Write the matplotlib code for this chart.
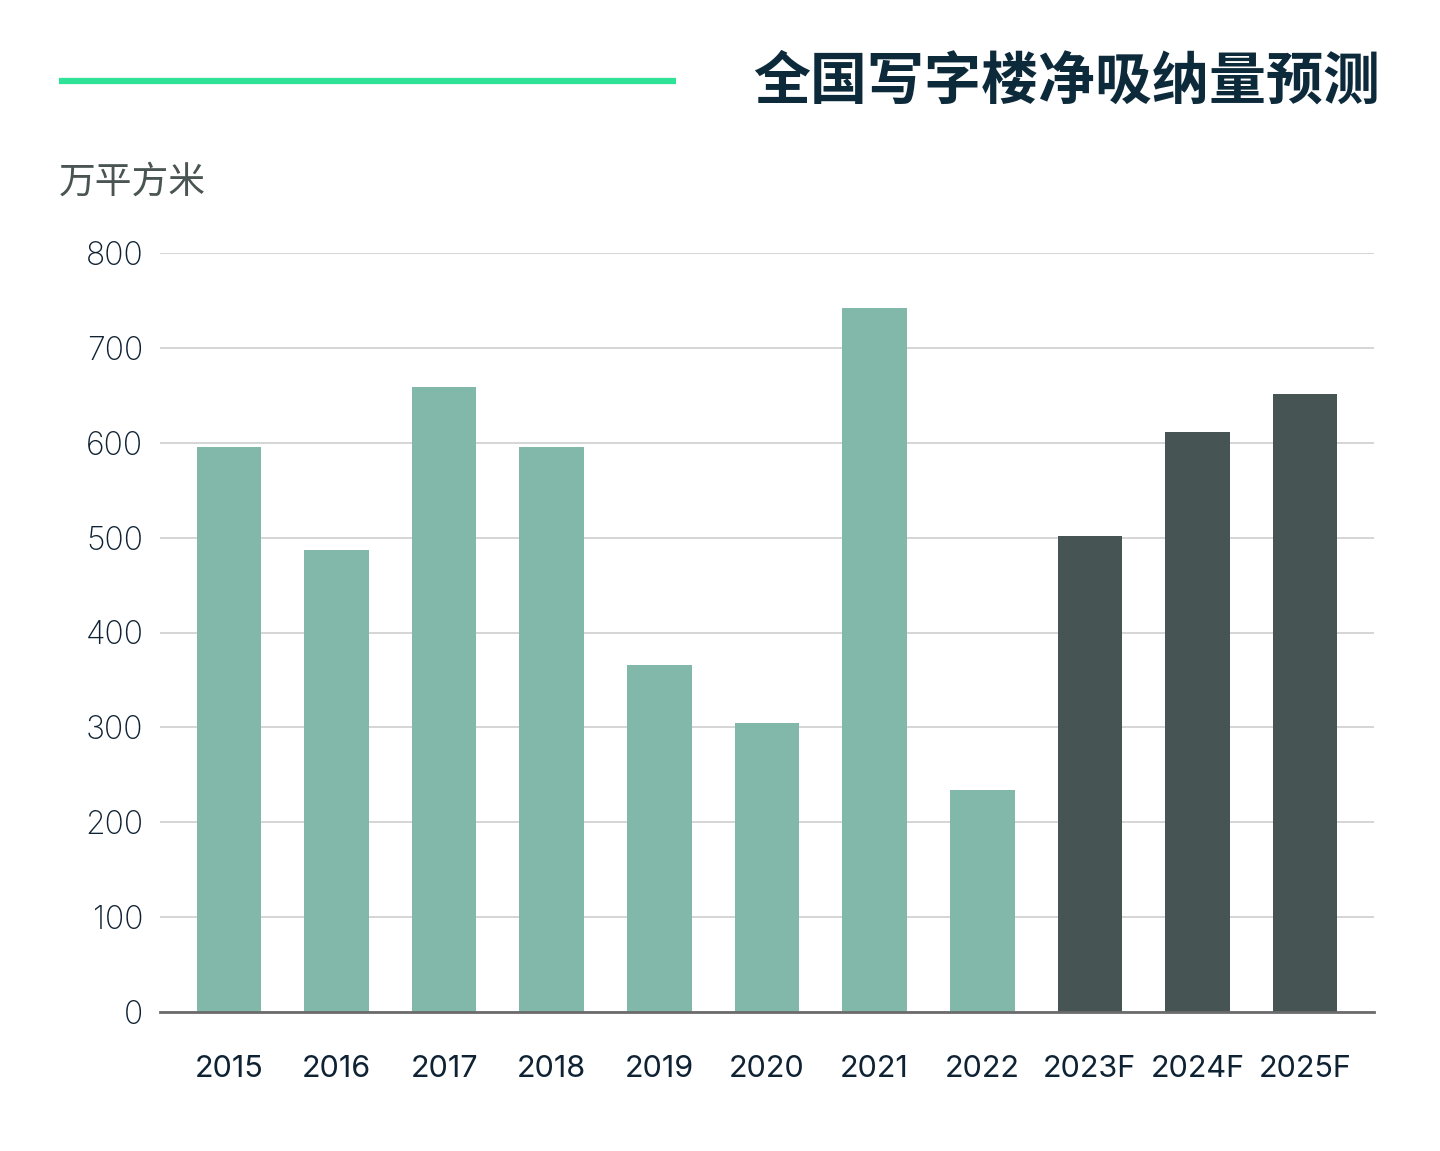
import matplotlib
matplotlib.use('Agg')
import matplotlib.pyplot as plt
from matplotlib.lines import Line2D

plt.rcParams['font.family'] = ['Inter', 'Noto Sans CJK SC', 'DejaVu Sans']

# data
years = ['2015', '2016', '2017', '2018', '2019', '2020', '2021', '2022', '2023F', '2024F', '2025F']
absorption = [595, 487, 659, 596, 366, 305, 742, 234, 502, 611, 651]
is_forecast = [False] * 8 + [True] * 3
y_ticks = [0, 100, 200, 300, 400, 500, 600, 700, 800]

hist_color = '#82b8a9'
fc_color = '#465453'
colors = [fc_color if f else hist_color for f in is_forecast]

fig = plt.figure(figsize=(14.4, 11.51), dpi=100)
ax = fig.add_axes([160 / 1440, 1 - 1012 / 1151, (1374 - 160) / 1440, (1012 - 253) / 1151])

x = list(range(len(years)))
ax.bar(x, absorption, width=0.6, color=colors, zorder=3)

ax.set_xlim(-0.64, len(years) - 1 + 0.64)
ax.set_ylim(0, 800)
ax.set_yticks(y_ticks)
ax.set_yticklabels([str(v) for v in y_ticks], fontsize=23, color='#0f2233', fontweight='light')
ax.set_xticks(x)
ax.set_xticklabels(years, fontsize=22, color='#0f2233')
ax.tick_params(axis='y', length=0, pad=12)
ax.tick_params(axis='x', length=0, pad=31)

ax.grid(axis='y', color='#d2d2d2', linewidth=1.3, zorder=0)
for side in ['top', 'right', 'left']:
    ax.spines[side].set_visible(False)
ax.spines['bottom'].set_color('#6b6b6b')
ax.spines['bottom'].set_linewidth(2)
ax.spines['bottom'].set_zorder(4)

# header
fig.add_artist(Line2D([59 / 1440, 676 / 1440], [1 - 81 / 1151, 1 - 81 / 1151],
                      color='#2ee398', linewidth=4.5, solid_capstyle='butt',
                      transform=fig.transFigure))
fig.text(1380 / 1440, 1 - 82 / 1151, '全国写字楼净吸纳量预测', ha='right', va='center',
         fontsize=41, fontweight='bold', color='#0d2a3b', family=['Noto Sans CJK SC'])
fig.text(59 / 1440, 1 - 182 / 1151, '万平方米', ha='left', va='center',
         fontsize=26.5, color='#4a5553', family=['Noto Sans CJK SC'])

fig.savefig('out.png', dpi=100, facecolor='white')
